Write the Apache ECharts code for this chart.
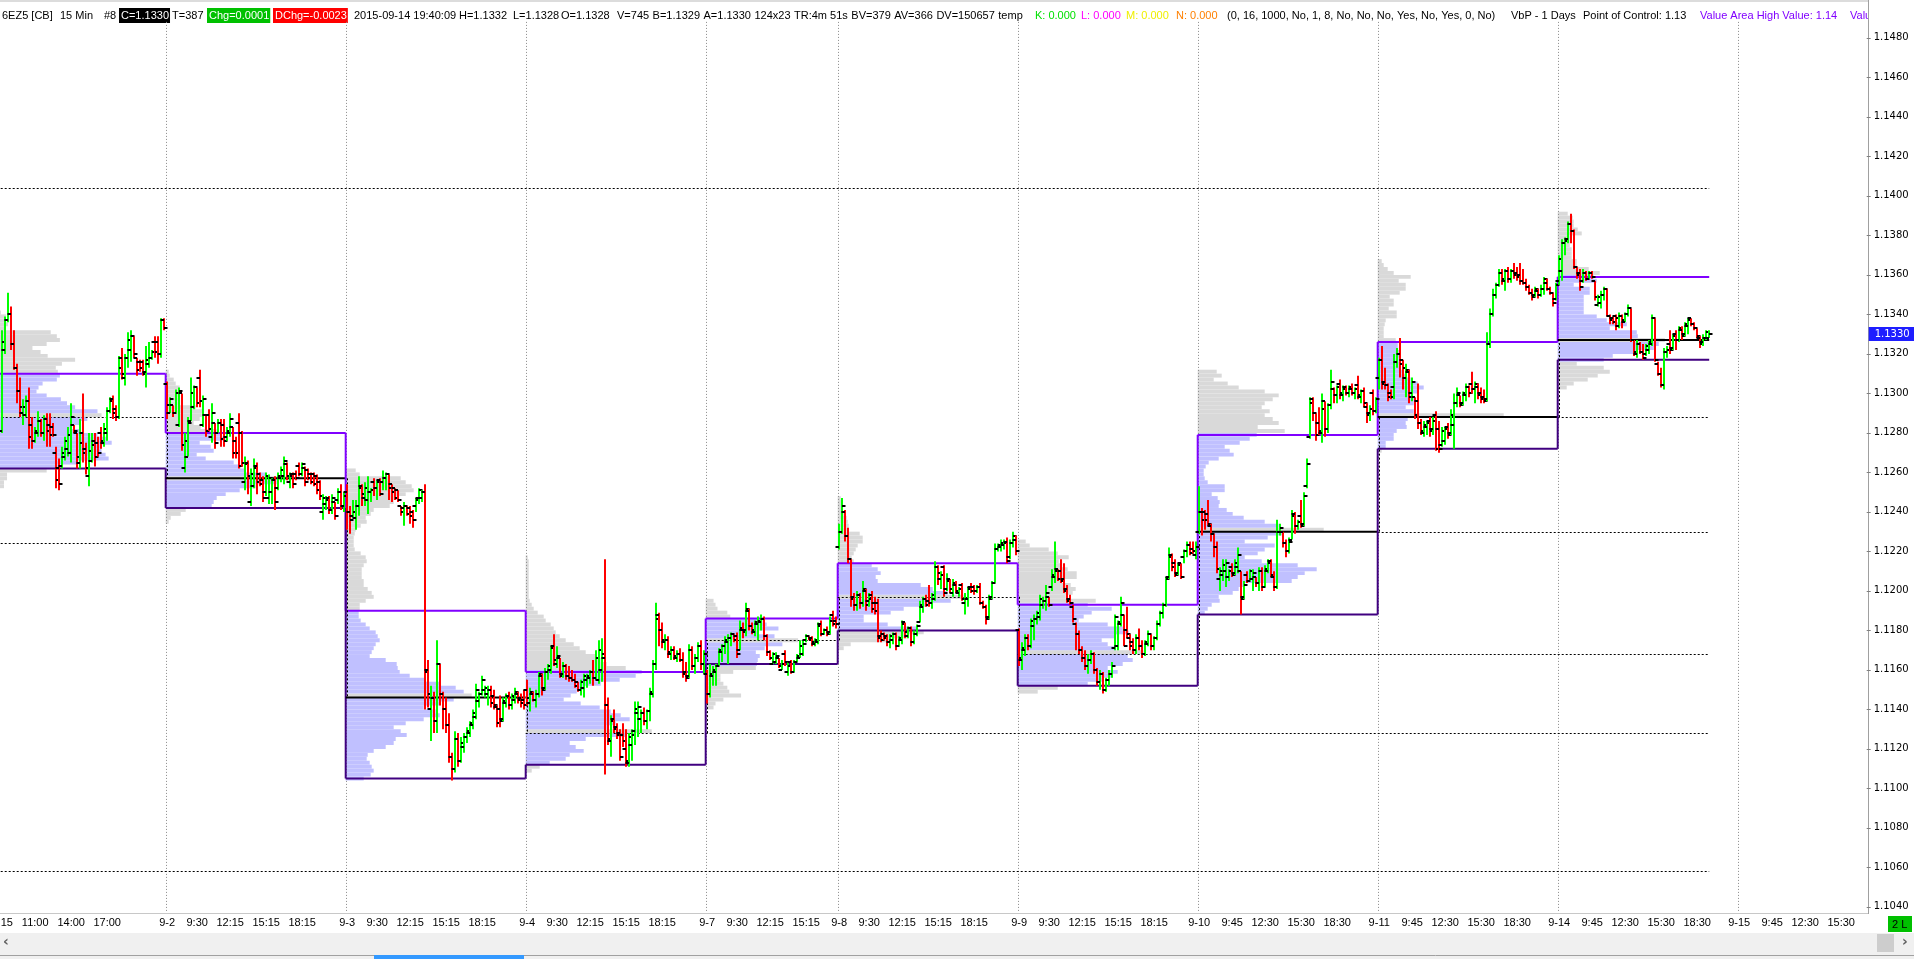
<!DOCTYPE html>
<html><head><meta charset="utf-8">
<script src="https://cdn.jsdelivr.net/npm/echarts/dist/echarts.min.js"></script>
<style>html,body{margin:0;padding:0;background:#fff;overflow:hidden}#c{width:1914px;height:959px}</style>
</head><body><div id="c"></div>
<script>
// ---- units: prices are stored in pips above 1.1000 ----
const BASE = 1.1, PIP = 0.0001, ROW = 2;

const dayNames = ['9-1','9-2','9-3','9-4','9-7','9-8','9-9','9-10','9-11','9-14','9-15'];
const daySlots = [60,60,60,60,44,60,60,60,60,60,43];
const firstBar = [5,0,0,0,0,0,0,0,0,0,0];   // first visible bar of each session
const timeLabels91 = [[5,'8:15'],[16,'11:00'],[28,'14:00'],[40,'17:00']];
const timeLabelsA = [[10,'9:30'],[21,'12:15'],[33,'15:15'],[45,'18:15']];
const timeLabelsB = [[11,'9:45'],[22,'12:30'],[34,'15:30'],[46,'18:30']];
const dayLabelSets = [timeLabels91,timeLabelsA,timeLabelsA,timeLabelsA,timeLabelsA,timeLabelsA,timeLabelsA,timeLabelsB,timeLabelsB,timeLabelsB,timeLabelsB];

// OHLC bars [open, high, low, close] in pips
const bars0901 = [[281,332,280,326],[322,339,320,337],[337,351,336,340],[340,344,322,325],[325,332,312,313],[313,315,295,301],[301,308,288,293],[290,297,284,293],[289,299,288,296],[296,303,272,278],[284,288,272,276],[276,283,275,281],[280,291,278,286],[286,287,278,280],[280,289,276,287],[287,290,273,281],[284,290,273,279],[283,285,278,279],[270,273,252,256],[262,267,251,254],[263,273,262,270],[268,278,266,276],[272,283,268,279],[270,295,265,288],[284,284,280,281],[280,280,262,268],[265,287,262,275],[280,300,265,270],[272,275,259,262],[258,280,253,271],[266,280,265,274],[276,280,263,268],[275,278,268,270],[280,283,272,276],[275,285,273,282],[280,293,276,291],[291,298,290,296],[297,299,287,290],[292,294,286,288],[288,319,287,313],[318,323,307,310],[308,320,304,318],[318,331,313,327],[322,332,316,329],[329,329,318,320],[318,318,309,312],[316,317,311,313],[316,317,309,310],[311,324,303,317],[315,326,313,318],[318,322,317,321],[326,329,318,321],[326,329,315,320],[320,338,318,337],[337,338,332,333]];
const bars0902 = [[305,306,287,294],[290,298,290,297],[294,294,288,290],[290,302,290,300],[284,303,283,301],[300,300,271,274],[262,280,260,276],[268,288,268,285],[286,308,286,300],[293,304,292,303],[303,303,293,295],[308,312,293,296],[284,299,283,297],[289,289,278,281],[289,292,281,282],[278,295,275,290],[285,285,272,275],[280,287,280,285],[285,287,273,277],[284,287,273,276],[278,283,276,281],[280,290,278,287],[283,283,267,270],[276,278,267,270],[285,290,262,263],[280,281,263,265],[255,268,251,264],[265,266,249,258],[245,262,243,259],[253,267,252,262],[263,265,249,255],[259,260,253,254],[256,258,245,247],[250,260,248,258],[247,259,244,257],[250,257,244,256],[256,258,241,245],[252,260,251,258],[257,263,255,261],[258,268,254,266],[264,265,256,258],[255,260,252,258],[259,260,252,254],[259,261,256,257],[263,265,258,259],[259,265,258,264],[262,263,253,255],[261,262,256,257],[259,260,254,255],[259,260,253,254],[258,259,249,251],[255,256,246,248],[240,249,236,247],[244,248,241,246],[247,248,239,241],[241,249,239,247],[245,245,236,238],[246,252,244,250],[250,254,241,243],[243,250,240,248]];
const bars0903 = [[250,254,231,240],[240,243,229,236],[238,246,237,240],[237,246,231,243],[243,258,238,252],[253,254,243,249],[247,255,243,252],[246,258,239,250],[250,252,245,251],[255,257,248,252],[252,256,246,255],[256,257,248,249],[255,261,251,257],[257,260,251,259],[259,259,246,252],[254,254,245,250],[252,252,246,247],[251,251,245,246],[243,243,238,240],[242,245,233,243],[243,243,238,239],[242,243,234,238],[240,241,232,236],[243,247,240,246],[247,252,244,251],[247,251,245,250],[250,254,140,159],[160,165,141,148],[140,152,124,146],[146,149,128,134],[134,175,128,163],[163,163,142,148],[148,149,130,140],[140,146,128,132],[132,138,113,116],[116,118,104,110],[110,129,108,125],[125,128,111,114],[114,126,113,123],[121,128,118,126],[126,131,123,129],[128,134,126,133],[132,140,130,138],[136,153,135,150],[144,149,141,148],[148,157,147,155],[150,152,146,151],[148,152,142,150],[150,152,141,143],[147,150,140,142],[141,142,131,133],[140,147,131,134],[135,146,134,144],[143,148,141,147],[147,149,140,142],[142,148,140,147],[145,151,143,149],[148,149,143,145],[146,148,141,143],[145,150,140,142]];
const bars0904 = [[150,155,142,146],[143,151,139,149],[148,149,144,145],[145,150,141,148],[148,159,146,158],[157,158,147,150],[151,161,150,159],[159,163,155,162],[160,172,158,171],[172,178,162,165],[163,172,161,167],[166,166,156,157],[158,164,156,162],[162,163,155,157],[157,162,154,156],[156,160,154,155],[155,158,151,152],[154,154,149,150],[150,155,147,154],[151,158,146,157],[155,158,151,157],[156,160,153,159],[159,165,152,156],[156,170,155,166],[155,175,153,170],[160,176,154,168],[166,216,107,142],[142,146,122,125],[124,137,116,134],[135,140,128,130],[131,133,125,127],[128,130,114,116],[127,133,121,124],[120,130,111,114],[113,128,111,126],[122,130,114,127],[129,144,122,140],[138,144,126,141],[135,140,128,138],[138,141,132,134],[134,140,130,139],[139,151,134,149],[148,165,146,163],[163,194,160,186],[188,189,172,180],[180,184,171,175],[174,178,170,175],[175,177,166,169],[168,172,165,170],[170,172,165,167],[166,170,164,168],[168,171,164,165],[165,169,156,158],[159,164,154,156],[157,173,156,170],[170,172,160,162],[162,168,158,166],[166,174,164,172],[172,175,160,163],[163,170,158,168]];
const bars0907 = [[158,160,143,148],[148,163,146,158],[157,162,152,160],[159,163,152,162],[162,171,162,170],[169,173,164,172],[172,177,168,175],[174,178,163,176],[176,179,172,178],[178,178,174,175],[177,179,166,168],[170,185,170,181],[180,184,176,179],[180,194,177,191],[190,191,180,182],[182,184,178,180],[179,185,177,184],[183,187,175,185],[184,188,180,186],[186,187,175,177],[177,178,167,169],[169,170,165,166],[163,169,163,168],[164,169,163,167],[166,166,161,162],[160,165,160,163],[168,170,162,164],[159,164,157,162],[164,165,158,159],[159,165,159,164],[164,168,164,167],[166,175,166,172],[168,175,167,173],[175,178,174,177],[177,177,175,175],[176,177,172,174],[173,176,172,175],[174,184,173,182],[183,185,177,178],[178,181,178,180],[180,182,177,178],[179,187,178,185],[188,190,182,183],[185,187,181,183]];
const bars0908 = [[222,234,221,230],[230,247,229,243],[240,241,225,228],[228,232,214,216],[216,216,192,196],[197,199,190,193],[193,200,190,198],[198,199,191,194],[194,205,192,201],[200,201,190,193],[195,199,192,196],[198,200,189,191],[194,197,188,190],[194,196,174,176],[177,180,174,175],[178,179,175,176],[177,178,172,174],[174,178,171,177],[175,179,173,178],[178,179,170,172],[172,177,172,176],[175,185,173,183],[184,184,176,179],[177,182,176,181],[181,182,172,174],[174,180,173,178],[178,183,177,182],[184,195,184,193],[192,197,189,196],[196,198,192,193],[195,203,192,194],[194,199,191,198],[196,215,195,212],[212,213,203,209],[206,210,201,208],[212,213,197,199],[201,209,200,205],[206,206,199,201],[199,206,197,204],[203,205,199,200],[199,202,197,201],[203,204,195,196],[194,199,188,196],[196,202,192,201],[202,204,199,200],[202,203,198,200],[200,203,199,202],[202,204,193,194],[194,195,191,192],[192,193,183,186],[187,198,186,196],[197,205,196,204],[204,224,204,221],[221,224,220,223],[222,226,220,224],[223,226,221,224],[225,227,214,215],[217,226,216,224],[224,230,222,228],[226,228,218,220]];
const bars0909 = [[180,181,162,166],[165,174,160,171],[170,178,167,176],[176,178,170,172],[172,186,171,185],[182,188,175,186],[186,190,183,189],[187,198,185,196],[193,197,191,195],[195,203,190,199],[197,197,192,193],[202,211,200,208],[207,225,204,210],[211,211,205,206],[210,216,204,205],[206,214,199,200],[201,203,194,195],[196,198,193,194],[192,193,184,186],[183,184,170,178],[178,180,168,170],[170,172,164,166],[166,170,160,162],[162,168,158,165],[165,170,163,168],[168,169,158,160],[160,161,152,154],[154,160,150,158],[158,159,148,150],[150,156,149,155],[155,160,152,158],[158,164,156,162],[171,188,170,187],[172,185,170,184],[183,197,182,194],[188,188,172,172],[180,192,176,178],[176,178,170,172],[174,176,168,170],[170,178,168,176],[176,181,170,172],[172,175,166,168],[168,175,167,174],[173,180,172,178],[178,178,170,172],[172,177,170,176],[176,185,175,183],[183,190,182,189],[189,194,186,193],[193,207,192,206],[207,222,206,217],[218,219,210,212],[214,216,207,208],[209,214,208,213],[214,214,206,207],[217,221,214,220],[220,225,217,223],[223,225,218,219],[221,225,219,220],[218,225,216,222]];
const bars0910 = [[230,253,229,240],[240,242,228,236],[240,241,231,236],[239,246,233,234],[233,234,225,229],[229,229,217,222],[222,225,209,211],[206,212,200,210],[208,216,205,213],[210,216,202,214],[207,211,205,210],[212,214,207,208],[209,216,208,214],[212,222,209,218],[210,210,188,196],[197,205,196,203],[208,210,204,205],[205,211,205,210],[206,211,200,209],[207,207,202,204],[204,212,200,210],[210,212,200,202],[202,213,202,211],[210,216,209,214],[215,216,207,208],[207,210,200,202],[202,236,201,230],[230,234,228,232],[230,230,222,224],[224,226,217,220],[220,227,219,225],[226,241,226,238],[239,240,229,233],[233,236,231,235],[238,246,232,233],[234,250,233,248],[253,267,252,264],[278,298,277,295],[297,298,286,290],[290,290,276,279],[285,293,279,281],[280,300,275,292],[296,296,278,282],[282,295,280,294],[294,312,292,306],[302,303,295,299],[299,304,295,303],[305,307,297,300],[299,304,296,302],[303,304,299,300],[300,304,298,303],[302,305,299,300],[300,303,297,302],[304,309,297,299],[298,302,295,301],[301,303,293,295],[293,295,285,289],[290,294,286,292],[300,302,289,291],[291,298,290,297]];
const bars0911 = [[308,318,302,317],[317,324,302,305],[306,313,302,304],[304,305,296,298],[300,302,297,298],[303,320,297,316],[316,323,313,320],[320,328,308,315],[317,317,302,313],[308,315,298,312],[311,312,295,298],[300,308,296,306],[298,298,287,289],[296,305,282,285],[285,287,279,281],[280,286,278,284],[283,286,279,285],[286,288,278,281],[282,288,279,286],[289,291,271,272],[282,286,270,272],[274,283,273,281],[276,283,274,282],[283,285,277,279],[280,292,279,289],[284,300,272,295],[295,303,293,300],[299,299,293,294],[295,301,294,300],[299,305,296,303],[303,304,298,300],[305,311,300,302],[302,306,295,305],[303,305,297,299],[300,303,295,297],[298,302,295,296],[297,331,296,325],[325,343,323,340],[340,353,339,350],[350,356,348,355],[355,363,354,361],[361,363,355,358],[357,363,352,362],[362,364,356,358],[358,363,356,362],[362,366,358,360],[361,364,357,359],[360,366,355,357],[357,363,355,356],[356,358,352,354],[354,355,350,351],[351,353,347,349],[350,354,349,353],[352,353,348,350],[350,355,349,353],[353,359,350,358],[356,358,352,353],[353,354,350,351],[351,351,344,346],[348,356,347,355]];
const bars0914 = [[357,370,355,368],[362,378,357,376],[376,379,370,377],[378,387,376,386],[386,391,376,382],[382,383,363,364],[364,364,358,360],[361,363,352,354],[357,363,356,361],[361,362,357,358],[358,362,358,361],[361,362,358,359],[357,357,347,349],[345,350,344,349],[346,352,343,350],[350,354,347,353],[353,353,339,339],[339,340,335,337],[338,339,335,336],[339,340,332,338],[334,341,333,339],[339,340,333,337],[336,341,336,340],[340,345,339,343],[343,343,326,327],[327,327,319,321],[320,327,318,325],[325,326,320,321],[321,325,317,318],[320,325,319,324],[322,327,320,326],[325,340,324,338],[338,338,316,317],[315,316,309,310],[310,313,303,304],[304,323,302,321],[321,324,318,322],[325,332,320,322],[323,330,322,329],[330,332,322,327],[327,334,326,333],[332,334,327,329],[330,336,329,335],[334,338,330,337],[338,338,334,335],[335,336,332,333],[333,333,328,329],[328,329,323,325],[326,330,324,328],[328,332,327,331],[328,332,328,330]];
const dayBars = [bars0901,bars0902,bars0903,bars0904,bars0907,bars0908,bars0909,bars0910,bars0911,bars0914,[]];

// daily value area / point of control (pips)
const vahPips = [310,280,190,159,186,214,193,279,326,359];
const valPips = [262,242,105,112,163,180,152,188,272,317];
const pocPips = [288,257,146,128,175,197,168,230,288,327];
const pocDotted = [1,0,0,1,1,1,1,0,0,0];

// volume profiles: lowest row (pips) and volume per 2-pip row
const profBase = [252,234,104,108,140,170,148,188,270,302];
const prof0901 = [18,18,21,21,60,71,89,121,118,114,114,124,120,110,93,85,93,100,114,110,88,80,74,60,50,52,56,70,73,71,69,75,88,61,54,46,60,73,70,64,20,22,18,20,15,12,10];
const prof0902 = [3,5,15,20,46,48,51,60,74,90,111,126,100,80,75,68,40,31,48,45,34,60,55,51,35,28,34,36,37,30,14,14,13,14,14,10,8,4,3];
const prof0903 = [18,25,28,26,24,21,22,28,40,48,50,61,55,48,60,78,94,90,78,95,108,126,118,110,94,80,64,54,52,51,40,24,26,28,30,34,32,30,24,20,15,13,13,14,14,20,28,26,22,18,18,16,16,16,18,21,20,15,9,8,8,8,9,10,15,21,20,25,28,44,48,51,60,68,66,60,55,14,10];
const prof0904 = [6,14,24,40,44,58,50,44,60,100,126,81,90,104,95,85,74,55,38,45,51,58,75,94,110,116,100,81,75,70,60,54,48,40,34,30,28,25,20,18,12,8,6,4,3,3,3,3,3,3,3,3,3,3,2];
const prof0907 = [8,10,18,36,24,22,18,15,15,28,51,52,53,55,51,60,78,94,70,54,74,62,58,25,22,12,10,8];
const prof0908 = [6,13,53,70,86,80,50,26,26,53,66,90,113,126,110,95,83,40,38,43,40,34,16,14,16,18,20,25,25,22,11,11,10,9,6,4,4,4,3];
const prof0909 = [20,40,70,85,95,100,90,105,115,110,126,98,90,84,98,111,105,90,61,66,74,94,70,78,48,55,58,53,43,59,59,50,44,41,51,40,31,12,8];
const prof0910 = [7,10,14,22,21,35,41,47,94,100,107,119,100,64,47,60,67,77,47,70,86,126,81,67,46,35,29,21,22,20,14,27,27,10,7,6,6,8,11,21,36,32,27,42,52,59,87,60,81,75,67,72,64,67,75,81,67,41,30,16,24,19];
const prof0911 = [4,8,8,16,16,19,29,28,30,126,36,28,36,36,33,40,46,40,33,29,26,22,22,21,22,22,20,20,18,6,6,6,7,8,19,19,11,16,16,12,22,28,28,21,33,16,10,6,4];
const prof0914 = [9,16,30,40,52,46,19,46,55,80,96,101,107,80,79,52,69,49,39,26,26,26,26,26,32,32,16,39,36,42,31,19,19,14,14,14,12,12,12,24,20,16,16,15,10];
const dayProfiles = [prof0901,prof0902,prof0903,prof0904,prof0907,prof0908,prof0909,prof0910,prof0911,prof0914];

// dotted extension lines (pips) and their span
const extPips = [404,58,224,128,168,230,288];
const extFrom = ['start','start','start','9-7','9-10','9-11','9-14'];
const extTo   = ['end','end','9-3','end','end','end','end'];

// ---- build axis categories (only visible slots; session 9-1 begins off-screen) ----
const categories = [], dayStartSlot = [];
let slotCursor = 0;
dayNames.forEach((dn, d) => {
  dayStartSlot.push(slotCursor - firstBar[d]);
  for (let k = firstBar[d]; k < daySlots[d]; k++) {
    let lab = (k === 0 && d > 0) ? dn : '';
    const t = dayLabelSets[d].find(e => e[0] === k);
    if (t) lab = t[1];
    categories.push(dn + '#' + k + '|' + lab);
    slotCursor++;
  }
});
const P = p => BASE + p * PIP;
const dayIdx = n => dayNames.indexOf(n);
const lastDay = 9;
const lastSlot = dayStartSlot[lastDay] + dayBars[lastDay].length - 1;
const lastBar = dayBars[lastDay][dayBars[lastDay].length - 1];

const barData = [];
dayBars.forEach((arr, d) => arr.forEach((b, j) => {
  barData.push([dayStartSlot[d] + firstBar[d] + j, P(b[0]), P(b[1]), P(b[2]), P(b[3])]);
}));
const profData = [];
dayProfiles.forEach((vals, d) => {
  const mx = Math.max.apply(null, vals);
  vals.forEach((v, i) => profData.push([dayStartSlot[d] + firstBar[d], P(profBase[d] + ROW * i), v, mx, d, profBase[d] + ROW * i]));
});
const levelData = vahPips.map((v, d) => [dayStartSlot[d] + firstBar[d], P(v), d]);
const extData = extPips.map((p, i) => [0, P(p), i]);
const sepData = dayNames.slice(1).map((n, i) => [dayStartSlot[i + 1], P(200)]);

function bandW(api) { return api.size([1, 0])[0]; }
function leftEdge(api, slot) { return api.coord([slot, BASE])[0] - bandW(api) / 2; }
function Y(api, pip) { return api.coord([0, P(pip)])[1]; }
function crisp(v) { return Math.round(v) + 0.5; }

function renderBar(params, api) {
  const s = api.value(0), o = api.value(1), h = api.value(2), l = api.value(3), c = api.value(4);
  const x = Math.round(api.coord([s, o])[0]);
  const bw = bandW(api);
  const yo = Math.round(api.coord([s, o])[1]), yc = Math.round(api.coord([s, c])[1]);
  const yh = api.coord([s, Math.max(h, o, c)])[1], yl = api.coord([s, Math.min(l, o, c)])[1];
  const col = c >= o ? '#00ff00' : '#ff0000';
  return { type: 'group', children: [
    { type: 'line', shape: { x1: x, y1: yh, x2: x, y2: yl }, style: { stroke: col, lineWidth: 2 } },
    { type: 'line', shape: { x1: x - bw - 0.5, y1: yo, x2: x, y2: yo }, style: { stroke: '#000', lineWidth: 2 } },
    { type: 'line', shape: { x1: x, y1: yc, x2: x + bw + 0.5, y2: yc }, style: { stroke: '#000', lineWidth: 2 } }
  ]};
}
function renderProfile(params, api) {
  const d = api.value(4), lo = api.value(5), v = api.value(2), mx = api.value(3);
  const bw = bandW(api);
  const xs = leftEdge(api, dayStartSlot[d]);
  const nb = firstBar[d] + dayBars[d].length;
  const w = v / mx * 0.7 * nb * bw;
  const yLo = Y(api, lo), yHi = Y(api, lo + ROW);
  const mid = lo + ROW / 2;
  const isPoc = pocPips[d] >= lo && pocPips[d] < lo + ROW;
  const inVA = mid >= valPips[d] && mid <= vahPips[d];
  return { type: 'rect', shape: { x: xs, y: yHi, width: w, height: yLo - yHi },
    style: { fill: (!isPoc && inVA) ? '#c0c0ff' : '#d9d9d9' } };
}
function dayEndX(api, d) {
  return d < lastDay ? leftEdge(api, dayStartSlot[d + 1]) : api.coord([lastSlot, BASE])[0];
}
function renderLevels(params, api) {
  const d = api.value(2);
  const xs = leftEdge(api, dayStartSlot[d]), xe = dayEndX(api, d);
  const ch = [];
  const seg = (arr, color) => {
    const y = Y(api, arr[d]);
    ch.push({ type: 'line', shape: { x1: xs, y1: y, x2: xe, y2: y }, style: { stroke: color, lineWidth: 2 } });
    if (d > 0) ch.push({ type: 'line', shape: { x1: xs, y1: Y(api, arr[d - 1]), x2: xs, y2: y }, style: { stroke: color, lineWidth: 2 } });
  };
  seg(vahPips, '#8000ff');
  seg(valPips, '#400080');
  const yp = Y(api, pocPips[d]);
  if (pocDotted[d]) {
    ch.push({ type: 'line', shape: { x1: xs, y1: crisp(yp), x2: xe, y2: crisp(yp) }, style: { stroke: '#000', lineWidth: 1, lineDash: [2, 2] } });
  } else {
    ch.push({ type: 'line', shape: { x1: xs, y1: yp, x2: xe, y2: yp }, style: { stroke: '#000', lineWidth: 2 } });
  }
  if (d > 0) ch.push({ type: 'line', shape: { x1: crisp(xs + 1), y1: Y(api, pocPips[d - 1]), x2: crisp(xs + 1), y2: yp }, style: { stroke: '#000', lineWidth: 1, lineDash: [2, 2] } });
  return { type: 'group', children: ch };
}
function renderExt(params, api) {
  const i = api.value(2);
  const cs = params.coordSys;
  const xs = extFrom[i] === 'start' ? cs.x : leftEdge(api, dayStartSlot[dayIdx(extFrom[i])]);
  const xe = extTo[i] === 'end' ? api.coord([lastSlot, BASE])[0] : leftEdge(api, dayStartSlot[dayIdx(extTo[i])]);
  const y = crisp(Y(api, extPips[i]));
  return { type: 'line', shape: { x1: xs, y1: y, x2: xe, y2: y }, style: { stroke: '#000', lineWidth: 1, lineDash: [2, 2] } };
}
function renderSep(params, api) {
  const cs = params.coordSys;
  const x = crisp(leftEdge(api, api.value(0)));
  return { type: 'line', shape: { x1: x, y1: cs.y - 16, x2: x, y2: cs.y + cs.height + 6 },
    style: { stroke: '#8a8a8a', lineWidth: 1, lineDash: [1, 2] } };
}
function renderTag(params, api) {
  const cs = params.coordSys;
  const y = api.coord([api.value(0), api.value(1)])[1];
  const x0 = cs.x + cs.width + 2;
  return { type: 'group', children: [
    { type: 'rect', shape: { x: x0, y: Math.round(y) - 7, width: 1914 - x0, height: 14 }, style: { fill: '#1e1eff' } },
    { type: 'text', style: { text: api.value(1).toFixed(4), x: x0 + 6, y: Math.round(y), fill: '#fff',
      font: '10px "DejaVu Sans"', textVerticalAlign: 'middle', verticalAlign: 'middle' } }
  ]};
}

// ---- header / window chrome ----
const HFONT = '11px "Liberation Sans"';
const headerSegs = [
  ['6EZ5 [CB]','#000',null,2],['15 Min','#000',null,60],['#8','#000',null,104],
  ['C=1.1330','#fff','#000000',121],['T=387','#000',null,172],['Chg=0.0001','#fff','#00c000',209],
  ['DChg=-0.0023','#fff','#ff0000',275],['2015-09-14 19:40:09','#000',null,354],['H=1.1332','#000',null,459],
  ['L=1.1328','#000',null,513],['O=1.1328','#000',null,561],['V=745','#000',null,617],
  ['B=1.1329','#000',null,null],['A=1.1330','#000',null,null],['124x23','#000',null,null],
  ['TR:4m 51s','#000',null,null],['BV=379','#000',null,null],['AV=366','#000',null,null],
  ['DV=150657','#000',null,null],['temp','#000',null,null],
  ['K: 0.000','#00e000',null,1035],['L: 0.000','#ff00ff',null,1081],['M: 0.000','#f0f000',null,1126],
  ['N: 0.000','#ff8000',null,1176],['(0, 16, 1000, No, 1, 8, No, No, No, Yes, No, Yes, 0, No)','#000',null,1227],
  ['VbP - 1 Days','#000',null,1511],['Point of Control: 1.13','#000',null,1583],
  ['Value Area High Value: 1.14','#8000ff',null,1700],['Valu','#8000ff',null,1850]
];
const mctx = document.createElement('canvas').getContext('2d');
mctx.font = HFONT;
const g = [];
g.push({ type: 'rect', shape: { x: 0, y: 0, width: 1914, height: 2 }, style: { fill: '#dcdcdc' }, silent: true });
let hx = 0;
headerSegs.forEach(sg => {
  const x = sg[3] != null ? sg[3] : hx + 3.5;
  const w = mctx.measureText(sg[0]).width;
  if (sg[2]) g.push({ type: 'rect', shape: { x: x - 2, y: 8, width: w + 3, height: 15 }, style: { fill: sg[2] }, silent: true });
  g.push({ type: 'text', x: x, y: 15.5, style: { text: sg[0], fill: sg[1], font: HFONT, textVerticalAlign: 'middle', verticalAlign: 'middle' }, silent: true });
  hx = x + w;
});
g.push({ type: 'rect', shape: { x: 1869, y: 0, width: 45, height: 22 }, style: { fill: '#fff' }, silent: true });
g.push({ type: 'line', shape: { x1: 0, y1: 913.5, x2: 1868, y2: 913.5 }, style: { stroke: '#c8c8c8', lineWidth: 1 }, silent: true });
g.push({ type: 'line', shape: { x1: 1868.5, y1: 0, x2: 1868.5, y2: 914 }, style: { stroke: '#a0a0a0', lineWidth: 1 }, silent: true });
g.push({ type: 'rect', shape: { x: 0, y: 933, width: 1914, height: 20 }, style: { fill: '#f0f0f0' }, silent: true });
g.push({ type: 'text', x: 3, y: 942, style: { text: '‹', fill: '#606060', font: 'bold 14px "DejaVu Sans"', textVerticalAlign: 'middle', verticalAlign: 'middle' }, silent: true });
g.push({ type: 'rect', shape: { x: 1877, y: 934, width: 17, height: 18 }, style: { fill: '#cdcdcd' }, silent: true });
g.push({ type: 'text', x: 1902, y: 942, style: { text: '›', fill: '#606060', font: 'bold 14px "DejaVu Sans"', textVerticalAlign: 'middle', verticalAlign: 'middle' }, silent: true });
g.push({ type: 'rect', shape: { x: 0, y: 953, width: 1914, height: 6 }, style: { fill: '#f0f0f0' }, silent: true });
g.push({ type: 'line', shape: { x1: 0, y1: 955.5, x2: 1914, y2: 955.5 }, style: { stroke: '#a0a0a0', lineWidth: 1 }, silent: true });
g.push({ type: 'rect', shape: { x: 374, y: 955, width: 150, height: 4 }, style: { fill: '#3399ff' }, silent: true });
g.push({ type: 'rect', shape: { x: 1888, y: 916, width: 24, height: 16 }, style: { fill: '#00c000' }, silent: true });
g.push({ type: 'text', x: 1892, y: 924.5, style: { text: '2 L', fill: '#000', font: '11px "Liberation Sans"', textVerticalAlign: 'middle', verticalAlign: 'middle' }, silent: true });

const chart = echarts.init(document.getElementById('c'), null, { renderer: 'canvas' });
chart.setOption({
  animation: false,
  backgroundColor: '#ffffff',
  grid: { left: 0.7, right: 47.3, top: 37.9, bottom: 52.1, containLabel: false, outerBoundsMode: 'none' },
  xAxis: {
    type: 'category', data: categories, boundaryGap: true,
    axisLine: { show: false }, axisTick: { show: false }, splitLine: { show: false },
    axisLabel: {
      interval: (i, v) => v.split('|')[1] !== '',
      formatter: v => v.split('|')[1],
      margin: 11, fontFamily: 'Liberation Sans', fontSize: 11, color: '#000'
    }
  },
  yAxis: {
    type: 'value', position: 'right', min: 1.104, max: 1.148, interval: 0.002, scale: true,
    axisLine: { show: false }, splitLine: { show: false },
    axisTick: { show: true, length: 4, lineStyle: { color: '#808080' } },
    axisLabel: { margin: 7, fontFamily: 'DejaVu Sans', fontSize: 10, color: '#000', formatter: v => v.toFixed(4), showMinLabel: true, showMaxLabel: true }
  },
  graphic: { elements: g },
  series: [
    { type: 'custom', name: 'profile', data: profData, renderItem: renderProfile, encode: { x: 0, y: 1 }, clip: true, silent: true, z: 1 },
    { type: 'custom', name: 'sep', data: sepData, renderItem: renderSep, encode: { x: 0, y: 1 }, clip: false, silent: true, z: 2 },
    { type: 'custom', name: 'ext', data: extData, renderItem: renderExt, encode: { x: 0, y: 1 }, clip: true, silent: true, z: 3 },
    { type: 'custom', name: 'levels', data: levelData, renderItem: renderLevels, encode: { x: 0, y: 1 }, clip: true, silent: true, z: 3 },
    { type: 'custom', name: 'bars', data: barData, renderItem: renderBar, encode: { x: 0, y: [1, 2, 3, 4] }, clip: true, silent: true, z: 4 },
    { type: 'custom', name: 'tag', data: [[lastSlot, P(lastBar[3])]], renderItem: renderTag, encode: { x: 0, y: 1 }, clip: false, silent: true, z: 5 }
  ]
});
</script></body></html>
